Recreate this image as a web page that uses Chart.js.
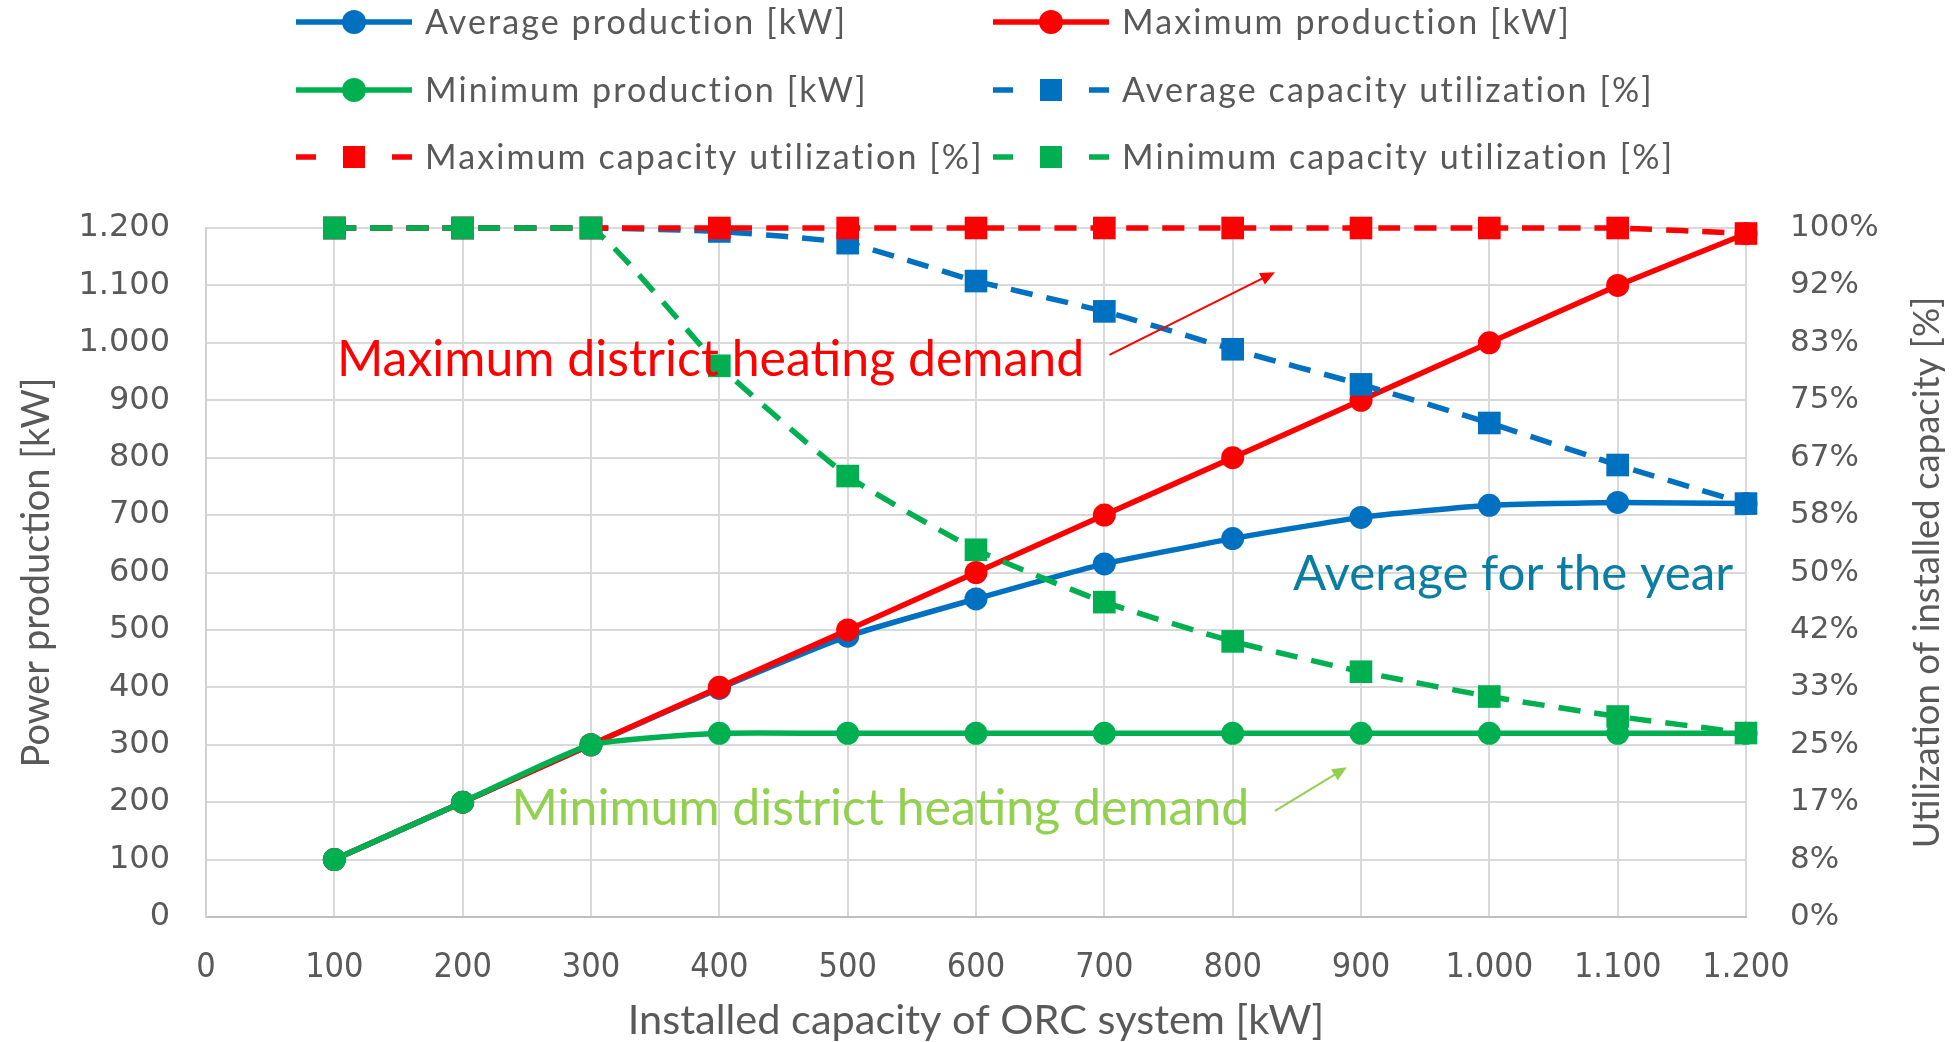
<!DOCTYPE html>
<html>
<head>
<meta charset="utf-8">
<title>ORC system production and capacity utilization</title>
<script src="https://cdn.jsdelivr.net/npm/chart.js@4.4.1/dist/chart.umd.min.js"></script>
<style>
  html, body { margin: 0; padding: 0; background: #ffffff; }
  #wrap { width: 1956px; height: 1042px; }
</style>
</head>
<body>
<div id="wrap"><canvas id="chart" width="1956" height="1042"></canvas></div>
<script>
// Installed ORC capacity [kW]
const capacities = [100, 200, 300, 400, 500, 600, 700, 800, 900, 1000, 1100, 1200];

// Power production [kW]
const avgProduction = [100, 200, 300, 398, 489, 554, 615, 659, 696, 717, 722, 720];
const maxProduction = [100, 200, 300, 400, 500, 600, 700, 800, 900, 1000, 1100, 1190];
const minProduction = [100, 200, 300, 320, 320, 320, 320, 320, 320, 320, 320, 320];

// Capacity utilization [%]
const avgUtilization = [100, 100, 100, 99.5, 97.8, 92.3, 87.9, 82.4, 77.3, 71.7, 65.6, 60];
const maxUtilization = [100, 100, 100, 100, 100, 100, 100, 100, 100, 100, 100, 99.2];
const minUtilization = [100, 100, 100, 80, 64, 53.3, 45.7, 40, 35.6, 32, 29.1, 26.7];

// Tick labels
const xTickLabels = ['0', '100', '200', '300', '400', '500', '600', '700', '800', '900', '1.000', '1.100', '1.200'];
const yTickLabels = ['0', '100', '200', '300', '400', '500', '600', '700', '800', '900', '1.000', '1.100', '1.200'];
const pctTickLabels = ['0%', '8%', '17%', '25%', '33%', '42%', '50%', '58%', '67%', '75%', '83%', '92%', '100%'];

// Series names
const seriesNames = [
  'Average production [kW]',
  'Maximum production [kW]',
  'Minimum production [kW]',
  'Average capacity utilization [%]',
  'Maximum capacity utilization [%]',
  'Minimum capacity utilization [%]'
];

const TEXT = '#595959';
const BLUE = '#0070C0';
const RED = '#FF0000';
const GREEN = '#00B050';
const LIGHT_GREEN = '#92D050';
const TEAL = '#0A7DA3';
const GRID = '#D9D9D9';

function points(values) {
  return capacities.map((c, i) => ({ x: c, y: values[i] }));
}

function series(index, values, color, axis, dashed) {
  return {
    label: seriesNames[index],
    data: points(values),
    yAxisID: axis,
    order: 5 - index,
    clip: 20,
    borderColor: color,
    backgroundColor: color,
    borderWidth: 5.5,
    borderDash: dashed ? [22, 14] : [],
    pointStyle: dashed ? 'rect' : 'circle',
    pointRadius: dashed ? 16 : 11.5,
    pointHoverRadius: dashed ? 16 : 11.5,
    pointBorderWidth: 0,
    tension: 0.15,
    fill: false
  };
}

const datasets = [
  series(0, avgProduction, BLUE, 'y', false),
  series(1, maxProduction, RED, 'y', false),
  series(2, minProduction, GREEN, 'y', false),
  series(3, avgUtilization, BLUE, 'y2', true),
  series(4, maxUtilization, RED, 'y2', true),
  series(5, minUtilization, GREEN, 'y2', true)
];

// Text notes and arrows placed in data coordinates (x in kW, y on the left axis)
const notes = [
  { text: 'Maximum district heating demand', color: RED, x: 102, y: 942, size: 50 },
  { text: 'Average for the year', color: TEAL, x: 847, y: 569, size: 49.3 },
  { text: 'Minimum district heating demand', color: LIGHT_GREEN, x: 238, y: 160, size: 50 }
];
const arrows = [
  { from: [704, 979], to: [833, 1123], color: RED },
  { from: [833, 185], to: [889, 261], color: LIGHT_GREEN }
];

const legendLayout = {
  columns: [296, 993],
  rows: [22, 90, 157],
  sampleWidth: 116,
  textGap: 13,
  font: '34px Lato',
  spacing: '2.1px'
};

const overlay = {
  id: 'overlay',
  afterDraw(chart) {
    const { ctx, chartArea, scales } = chart;
    const sx = scales.x, sy = scales.y;

    // Right axis title, reading bottom to top
    ctx.save();
    ctx.translate(1927, (chartArea.top + chartArea.bottom) / 2);
    ctx.rotate(-Math.PI / 2);
    ctx.font = '36.5px Lato';
    ctx.fillStyle = TEXT;
    ctx.textAlign = 'center';
    ctx.textBaseline = 'middle';
    ctx.fillText('Utilization of installed capacity [%]', 0, 0);
    ctx.restore();

    // Legend in two columns
    chart.data.datasets.forEach((ds, i) => {
      const x0 = legendLayout.columns[i % 2];
      const y = legendLayout.rows[Math.floor(i / 2)];
      const x1 = x0 + legendLayout.sampleWidth;
      const cx = (x0 + x1) / 2;
      ctx.save();
      ctx.strokeStyle = ds.borderColor;
      ctx.fillStyle = ds.backgroundColor;
      ctx.lineWidth = 5.5;
      ctx.lineCap = 'butt';
      ctx.beginPath();
      if (ds.borderDash.length) {
        ctx.moveTo(x0, y); ctx.lineTo(x0 + 20, y);
        ctx.moveTo(x1 - 20, y); ctx.lineTo(x1, y);
      } else {
        ctx.moveTo(x0, y); ctx.lineTo(x1, y);
      }
      ctx.stroke();
      if (ds.pointStyle === 'rect') {
        ctx.fillRect(cx - 11, y - 11, 22, 22);
      } else {
        ctx.beginPath();
        ctx.arc(cx, y, 12, 0, Math.PI * 2);
        ctx.fill();
      }
      ctx.font = legendLayout.font;
      if ('letterSpacing' in ctx) ctx.letterSpacing = legendLayout.spacing;
      ctx.fillStyle = TEXT;
      ctx.textAlign = 'left';
      ctx.textBaseline = 'middle';
      ctx.fillText(ds.label, x1 + legendLayout.textGap, y + 1);
      ctx.restore();
    });

    // Notes
    notes.forEach(n => {
      ctx.save();
      ctx.font = n.size + 'px Lato';
      ctx.fillStyle = n.color;
      ctx.textAlign = 'left';
      ctx.textBaseline = 'alphabetic';
      ctx.fillText(n.text, sx.getPixelForValue(n.x), sy.getPixelForValue(n.y));
      ctx.restore();
    });

    // Arrows
    arrows.forEach(a => {
      const x0 = sx.getPixelForValue(a.from[0]), y0 = sy.getPixelForValue(a.from[1]);
      const x1 = sx.getPixelForValue(a.to[0]), y1 = sy.getPixelForValue(a.to[1]);
      const ang = Math.atan2(y1 - y0, x1 - x0);
      const head = 16, spread = 0.42;
      ctx.save();
      ctx.strokeStyle = a.color;
      ctx.fillStyle = a.color;
      ctx.lineWidth = 2;
      ctx.beginPath();
      ctx.moveTo(x0, y0);
      ctx.lineTo(x1 - Math.cos(ang) * head * 0.8, y1 - Math.sin(ang) * head * 0.8);
      ctx.stroke();
      ctx.beginPath();
      ctx.moveTo(x1, y1);
      ctx.lineTo(x1 - head * Math.cos(ang - spread), y1 - head * Math.sin(ang - spread));
      ctx.lineTo(x1 - head * Math.cos(ang + spread), y1 - head * Math.sin(ang + spread));
      ctx.closePath();
      ctx.fill();
      ctx.restore();
    });
  }
};

new Chart(document.getElementById('chart').getContext('2d'), {
  type: 'line',
  data: { datasets },
  plugins: [overlay],
  options: {
    responsive: false,
    animation: false,
    devicePixelRatio: 1,
    layout: { padding: { top: 228, left: 0, right: 0, bottom: 0 } },
    plugins: {
      legend: { display: false },
      tooltip: { enabled: false }
    },
    scales: {
      x: {
        type: 'linear',
        min: 0,
        max: 1200,
        afterFit(scale) { scale.height = 125; },
        ticks: {
          stepSize: 100,
          autoSkip: false,
          maxRotation: 0,
          padding: 31,
          color: TEXT,
          font: { family: "'Liberation Sans Narrow', 'DejaVu Sans Condensed', sans-serif", size: 34 },
          callback: (v, i) => xTickLabels[i]
        },
        grid: { color: GRID, lineWidth: 2, drawTicks: false },
        border: { color: '#BFBFBF', width: 2 },
        title: {
          display: true,
          text: 'Installed capacity of ORC system [kW]',
          color: TEXT,
          font: { family: 'Lato', size: 41.5, lineHeight: 1 },
          padding: { top: 0, bottom: 1 }
        }
      },
      y: {
        position: 'left',
        min: 0,
        max: 1200,
        afterFit(scale) { scale.width = 206; },
        ticks: {
          stepSize: 100,
          padding: 36,
          color: TEXT,
          font: { family: "'DejaVu Sans', sans-serif", size: 32 },
          callback: (v, i) => yTickLabels[i]
        },
        grid: { color: GRID, lineWidth: 2, drawTicks: false },
        border: { color: '#D0D0D0', width: 2 },
        title: {
          display: true,
          text: 'Power production [kW]',
          color: TEXT,
          font: { family: 'Lato', size: 38, lineHeight: 1.2 },
          padding: { top: 14, bottom: 0 }
        }
      },
      y2: {
        position: 'right',
        min: 0,
        max: 100,
        afterFit(scale) { scale.width = 210; },
        ticks: {
          stepSize: 100 / 12,
          padding: 44,
          color: TEXT,
          font: { family: "'DejaVu Sans', sans-serif", size: 31 },
          callback: (v, i) => pctTickLabels[i]
        },
        grid: { drawOnChartArea: false, drawTicks: false },
        border: { display: false }
      }
    }
  }
});
</script>
</body>
</html>
